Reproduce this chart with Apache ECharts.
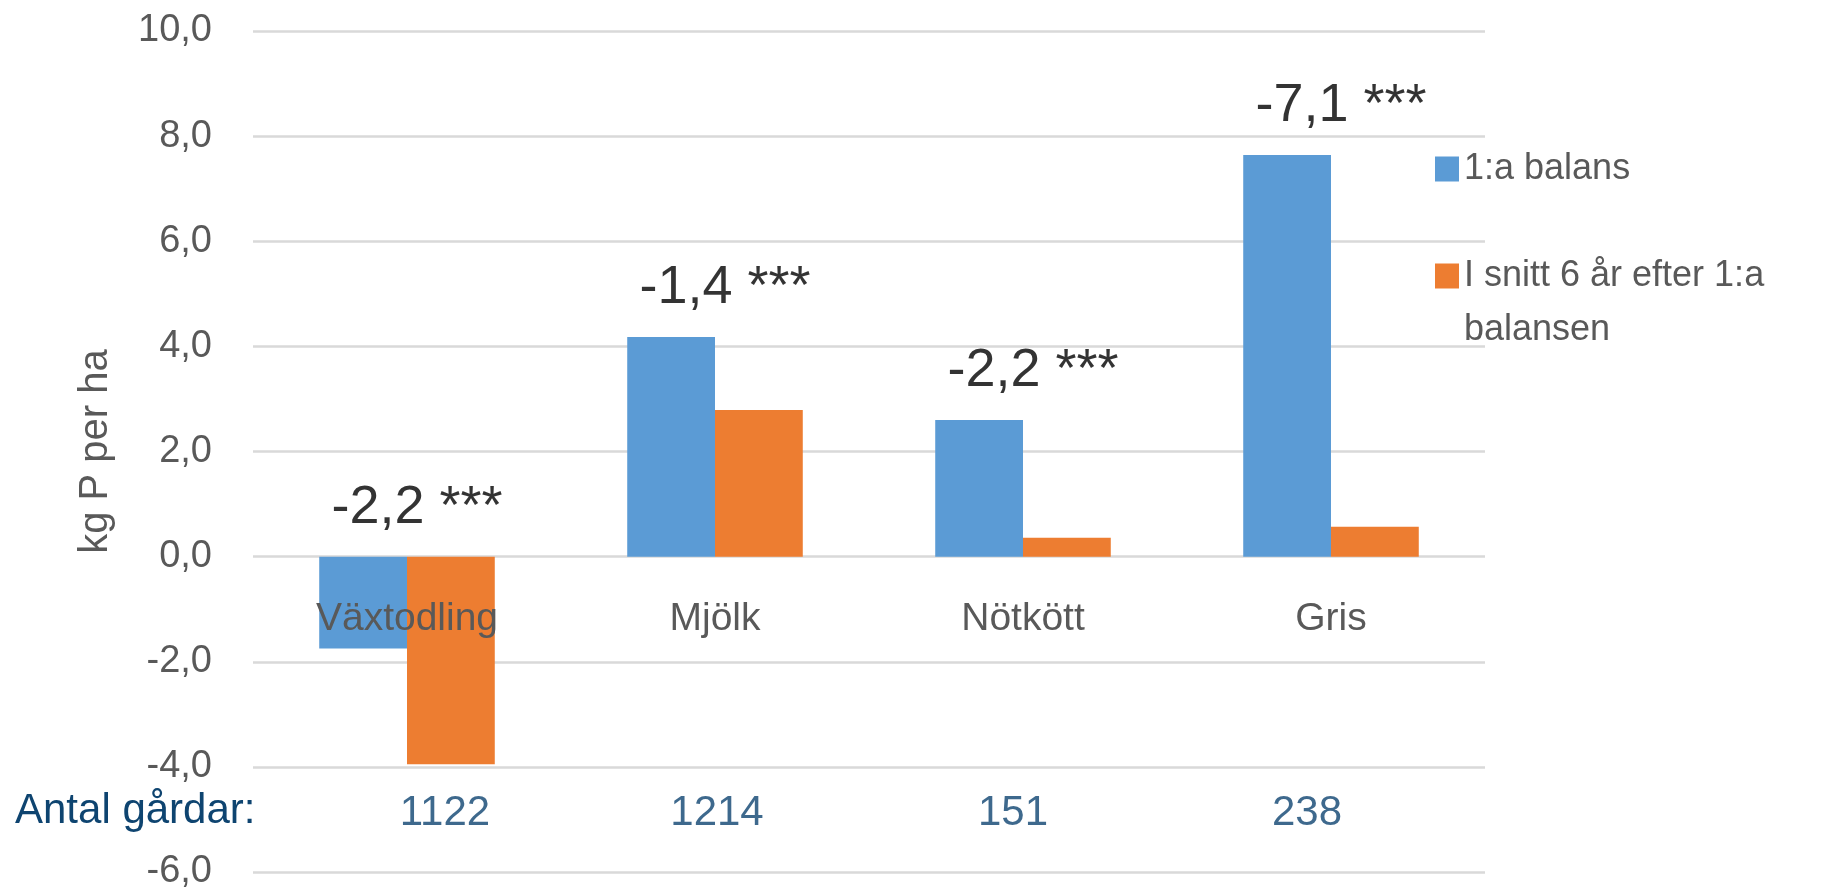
<!DOCTYPE html>
<html>
<head>
<meta charset="utf-8">
<script src="https://cdn.jsdelivr.net/npm/echarts@6/dist/echarts.min.js"></script>
<style>html,body{margin:0;padding:0;background:#fff}#c{width:1822px;height:891px}</style>
</head>
<body>
<div id="c"></div>
<script>
const categories = ['Växtodling', 'Mjölk', 'Nötkött', 'Gris'];
const seriesNames = ['1:a balans', 'I snitt 6 år efter 1:a balansen'];
const firstBalance = [-1.75, 4.18, 2.60, 7.64];
const avgSixYears = [-3.95, 2.79, 0.36, 0.57];
const changeLabels = ['-2,2 ***', '-1,4 ***', '-2,2 ***', '-7,1 ***'];
const farmCounts = ['1122', '1214', '151', '238'];
const countsTitle = 'Antal gårdar:';
const yTicks = { min: -6, max: 10, interval: 2 };

const FONT = "'Liberation Sans', Arial, sans-serif";
const GRAY = '#595959';
const NAVY = '#0E4470';
const countShift = [38, 2, -10, -24];

const GRID = { left: 253, right: 337, top: 31, bottom: 16 };
const plotH = 891 - GRID.top - GRID.bottom;
// offset that lifts the category axis from the grid bottom up to the value 0
const zeroOffset = -plotH * (0 - yTicks.min) / (yTicks.max - yTicks.min);

const chart = echarts.init(document.getElementById('c'));
chart.setOption({
  animation: false,
  textStyle: { fontFamily: FONT },
  grid: Object.assign({ containLabel: false }, GRID),
  legend: [
    {
      data: [seriesNames[0]], orient: 'vertical', left: 1435, top: 151, padding: 0,
      icon: 'rect', itemWidth: 24, itemHeight: 25, selectedMode: false,
      textStyle: { fontFamily: FONT, fontSize: 36, color: GRAY }
    },
    {
      data: [seriesNames[1]], orient: 'vertical', left: 1435, top: 195, padding: 0,
      icon: 'rect', itemWidth: 24, itemHeight: 25, selectedMode: false,
      formatter: n => '\nI snitt 6 år efter 1:a\nbalansen',
      textStyle: { fontFamily: FONT, fontSize: 36, color: GRAY, lineHeight: 54 }
    }
  ],
  xAxis: {
    type: 'category', data: categories, position: 'bottom', offset: zeroOffset, z: 10,
    axisLine: { show: false, onZero: false },
    axisTick: { show: false },
    axisLabel: { margin: 44, fontSize: 39, color: GRAY, fontFamily: FONT }
  },
  yAxis: {
    type: 'value', min: yTicks.min, max: yTicks.max, interval: yTicks.interval,
    name: 'kg P per ha', nameLocation: 'middle', nameGap: 137,
    nameTextStyle: { fontSize: 40, color: GRAY, fontFamily: FONT },
    axisLine: { show: false }, axisTick: { show: false },
    axisLabel: { margin: 41, fontSize: 38, color: GRAY, fontFamily: FONT,
      formatter: v => v.toFixed(1).replace('.', ',') },
    splitLine: { lineStyle: { color: '#D9D9D9', width: 2.5 } }
  },
  graphic: [{
    type: 'text', left: 15, top: 790,
    style: { text: countsTitle, fontSize: 42, fill: NAVY, fontFamily: FONT }
  }],
  series: [
    { name: seriesNames[0], type: 'bar', data: firstBalance, barGap: '0%', barCategoryGap: '43%',
      itemStyle: { color: '#5B9BD5' } },
    { name: seriesNames[1], type: 'bar', data: avgSixYears, barGap: '0%', barCategoryGap: '43%',
      itemStyle: { color: '#ED7D31' } },
    { type: 'scatter', symbolSize: 0, z: 20, silent: true,
      data: categories.map((c, i) => [i, Math.max(0, firstBalance[i], avgSixYears[i])]),
      label: { show: true, position: 'top', distance: 22, offset: [10, 0], fontSize: 54, color: '#000',
        fontFamily: FONT, formatter: p => changeLabels[p.dataIndex] } },
    { type: 'scatter', symbolSize: 0, z: 20, silent: true,
      data: categories.map((c, i) => ({ value: [i, yTicks.min], label: { offset: [countShift[i], 0] } })),
      label: { show: true, position: 'top', distance: 38, fontSize: 42, color: NAVY,
        fontFamily: FONT, formatter: p => farmCounts[p.dataIndex] } }
  ]
});
</script>
</body>
</html>
